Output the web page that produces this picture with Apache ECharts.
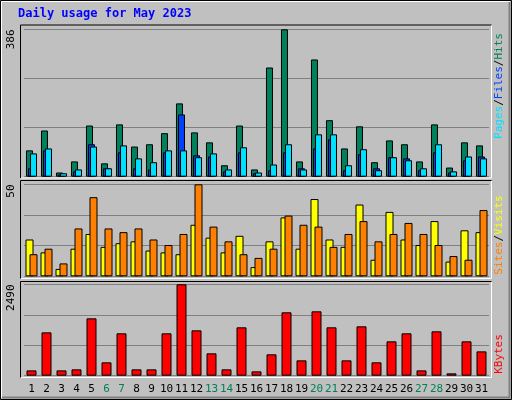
<!DOCTYPE html>
<html><head><meta charset="utf-8">
<script src="https://cdn.jsdelivr.net/npm/echarts@6/dist/echarts.min.js"></script>
<style>html,body{margin:0;padding:0;background:#c0c0c0}#c{width:512px;height:400px}</style>
</head><body><div id="c"></div>
<script>
const days = ['1','2','3','4','5','6','7','8','9','10','11','12','13','14','15','16','17','18','19','20','21','22','23','24','25','26','27','28','29','30','31'];
const weekend = ['6','7','13','14','20','21','27','28'];
const hits = [69,121,11,40,134,35,137,79,85,114,192,116,90,30,134,19,286,386,40,307,148,74,132,38,95,85,40,137,24,90,82];
const files = [22,69,6,14,85,22,64,22,19,64,163,56,53,14,64,9,17,64,22,74,98,17,59,22,51,48,17,64,11,43,53];
const pages = [61,74,9,19,79,22,82,48,38,69,69,51,61,19,77,11,32,85,19,111,111,30,72,17,51,43,22,85,14,53,48];
const visits = [20,13,4,15,23,16,18,19,14,13,12,28,21,13,22,5,19,32,15,42,20,16,39,9,35,20,17,30,8,25,24];
const sites = [12,15,7,26,43,26,24,26,20,17,23,50,27,19,12,10,15,33,28,27,16,23,30,19,23,29,23,17,11,9,36];
const kbytes = [145,1181,145,173,1563,364,1154,173,173,1154,2490,1236,609,173,1318,118,582,1727,418,1754,1318,418,1345,364,936,1154,145,1209,64,936,663];
const maxLabels = ['386','50','2490'];
const maxVals = [386,50,2490];

const chart = echarts.init(document.getElementById('c'));
const grids = [
  {left:24,width:465,top:29.3,height:147.4},
  {left:24,width:465,top:184.3,height:92},
  {left:24,width:465,top:284.3,height:91.4}
];
const xAxes = grids.map((g,i)=>({type:'category',gridIndex:i,data:days,
  axisLine:{show:false},axisTick:{show:false},
  axisLabel:{show:i===2,interval:0,margin:8,fontFamily:'DejaVu Sans Mono',fontSize:11,
    color:v=>weekend.includes(v)?'#00805C':'#000'}}));
const yAxes = grids.map((g,i)=>({type:'value',gridIndex:i,min:0,max:maxVals[i],interval:maxVals[i]/3,
  axisLabel:{show:false},axisLine:{show:false},axisTick:{show:false},
  splitLine:{show:true,lineStyle:{color:'#808080',width:1}}}));
const bs = c=>({color:c,borderColor:'#000',borderWidth:1});
const series = [
  {type:'bar',xAxisIndex:0,yAxisIndex:0,data:hits,barWidth:7,barGap:'-71%',itemStyle:bs('#00805C')},
  {type:'bar',xAxisIndex:0,yAxisIndex:0,data:files,barWidth:7,barGap:'-71%',itemStyle:bs('#0040FF')},
  {type:'bar',xAxisIndex:0,yAxisIndex:0,data:pages,barWidth:7,barGap:'-71%',itemStyle:bs('#00E0FF')},
  {type:'bar',xAxisIndex:1,yAxisIndex:1,data:visits,barWidth:8,barGap:'-50%',itemStyle:bs('#FFFF00')},
  {type:'bar',xAxisIndex:1,yAxisIndex:1,data:sites,barWidth:8,barGap:'-50%',itemStyle:bs('#FF8000')},
  {type:'bar',xAxisIndex:2,yAxisIndex:2,data:kbytes,barWidth:10,itemStyle:bs('#FF0000')}
].map(s=>Object.assign(s,{silent:true,animation:false}));

const panels = [[20,24.5,471,153],[20,180,471,98],[20,281,471,96]];
const graphic = [
  {type:'rect',shape:{x:0.5,y:0.5,width:511,height:399},style:{fill:'none',stroke:'#000',lineWidth:1},z:-10},
  {type:'polyline',shape:{points:[[1.5,398],[1.5,1.5],[510,1.5]]},style:{stroke:'#fff',fill:'none',lineWidth:1},z:-10},
  {type:'polyline',shape:{points:[[2,397.5],[509.5,397.5],[509.5,2]]},style:{stroke:'#808080',fill:'none',lineWidth:2},z:-10},
  {type:'text',left:18,top:8,style:{text:'Daily usage for May 2023',fill:'#0000FF',font:'bold 12px "DejaVu Sans Mono"'}}
];
panels.forEach(p=>{
  graphic.push({type:'rect',shape:{x:p[0]+0.5,y:p[1]+0.5,width:p[2],height:p[3]},style:{fill:'#c0c0c0',stroke:null},z:-5});
  graphic.push({type:'polyline',shape:{points:[[p[0]+0.5,p[1]+p[3]+0.5],[p[0]+0.5,p[1]+0.5],[p[0]+p[2]+0.5,p[1]+0.5]]},style:{stroke:'#000',fill:'none',lineWidth:1},z:-4});
  graphic.push({type:'polyline',shape:{points:[[p[0]+1,p[1]+p[3]+0.5],[p[0]+p[2]+0.5,p[1]+p[3]+0.5],[p[0]+p[2]+0.5,p[1]+1]]},style:{stroke:'#fff',fill:'none',lineWidth:1},z:-4});
});
[[29.5,0],[184.5,1],[284.5,2]].forEach(([y,i])=>{
  graphic.push({type:'text',x:6,y:y,rotation:Math.PI/2,style:{text:maxLabels[i],fill:'#000',font:'11px "DejaVu Sans Mono"',align:'right',verticalAlign:'top'}});
});
function sideLabel(yc,parts){
  graphic.push({type:'text',x:494,y:yc,rotation:Math.PI/2,style:{
    text:parts.map((p,k)=>'{s'+k+'|'+p[0]+'}').join(''),
    rich:Object.fromEntries(parts.map((p,k)=>['s'+k,{fill:p[1],font:'11px "DejaVu Sans Mono"'}])),
    align:'center',verticalAlign:'top'}});
}
sideLabel(86,[['Pages','#00E0FF'],['/','#000'],['Files','#0040FF'],['/','#000'],['Hits','#00805C']]);
sideLabel(235,[['Sites','#FF8000'],['/','#000'],['Visits','#FFFF00']]);
sideLabel(354,[['KBytes','#FF0000']]);

chart.setOption({animation:false,backgroundColor:'#c0c0c0',grid:grids,xAxis:xAxes,yAxis:yAxes,series:series,graphic:graphic});
</script></body></html>
